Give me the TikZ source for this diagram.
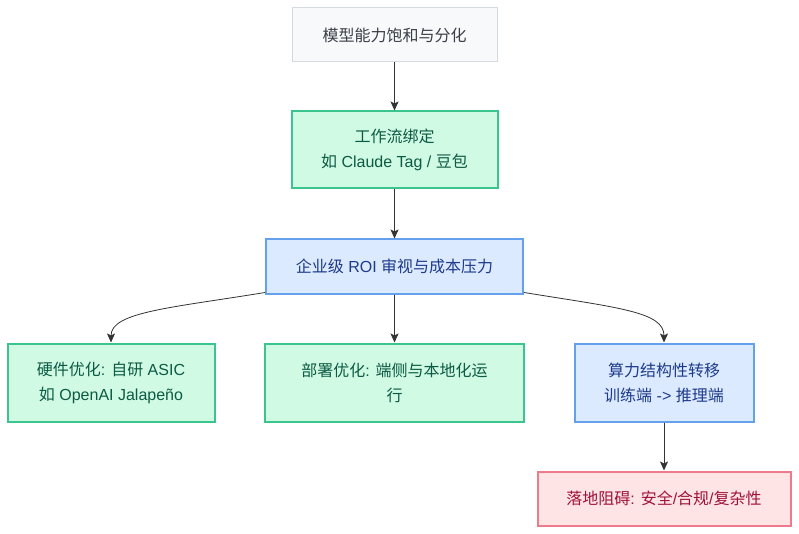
\documentclass[tikz,border=0pt]{standalone}
\usepackage{fontspec}
\setmainfont{Liberation Sans}
\newfontfamily\cjk{Noto Sans CJK SC}
\usetikzlibrary{arrows.meta}
\definecolor{gfill}{HTML}{F8F9FA}
\definecolor{gline}{HTML}{D5DAE0}
\definecolor{gtext}{HTML}{3A3F47}
\definecolor{nfill}{HTML}{D1FAE5}
\definecolor{nline}{HTML}{3CC48E}
\definecolor{ntext}{HTML}{0B5A43}
\definecolor{bfill}{HTML}{DBEAFE}
\definecolor{bline}{HTML}{64A0EC}
\definecolor{btext}{HTML}{1E3A8A}
\definecolor{rfill}{HTML}{FFE4E6}
\definecolor{rline}{HTML}{EE7A8C}
\definecolor{rtext}{HTML}{9F1239}
\definecolor{edge}{HTML}{333333}
\begin{document}
\begin{tikzpicture}[x=1pt,y=1pt,
  box/.style={rectangle,align=center,inner sep=0pt,font=\fontsize{16}{25}\selectfont},
  graybox/.style={box,fill=gfill,draw=gline,line width=1pt,text=gtext},
  greenbox/.style={box,fill=nfill,draw=nline,line width=2pt,text=ntext},
  bluebox/.style={box,fill=bfill,draw=bline,line width=2pt,text=btext},
  redbox/.style={box,fill=rfill,draw=rline,line width=2pt,text=rtext},
  conn/.style={draw=edge,line width=0.8pt,-{Stealth[length=9pt,width=8pt,inset=2pt]}}]
\useasboundingbox (0,0) rectangle (799,-534);
\node[graybox,minimum width=205pt,minimum height=54pt] (top) at (394.5,-35) {{\cjk 模型能力饱和与分化}};
\node[greenbox,minimum width=206pt,minimum height=77pt] (wf) at (394.5,-150) {{\cjk 工作流绑定}\\{\cjk 如} Claude Tag / {\cjk 豆包}};
\node[bluebox,minimum width=257pt,minimum height=54pt] (roi) at (394.5,-266.5) {{\cjk 企业级} ROI {\cjk 审视与成本压力}};
\node[greenbox,minimum width=207pt,minimum height=78pt] (hw) at (111,-382.5) {{\cjk 硬件优化}: {\cjk 自研} ASIC\\{\cjk 如} OpenAI Jalape\~no};
\node[greenbox,minimum width=259pt,minimum height=78pt] (dep) at (394.5,-382.5) {{\cjk 部署优化}: {\cjk 端侧与本地化运}\\{\cjk 行}};
\node[bluebox,minimum width=179pt,minimum height=78pt] (cmp) at (664,-382.5) {{\cjk 算力结构性转移}\\{\cjk 训练端} -> {\cjk 推理端}};
\node[redbox,minimum width=253pt,minimum height=54pt] (risk) at (664,-498.5) {{\cjk 落地阻碍}: {\cjk 安全}/{\cjk 合规}/{\cjk 复杂性}};
\draw[conn] (top.south) -- (wf.north);
\draw[conn] (wf.south) -- (roi.north);
\draw[conn] (roi.south) -- (dep.north);
\draw[conn] ([yshift=2pt]roi.south west) .. controls (170,-308) and (111,-312) .. (hw.north);
\draw[conn] ([yshift=2pt]roi.south east) .. controls (620,-308) and (664,-312) .. (cmp.north);
\draw[conn] (cmp.south) -- (risk.north);
\end{tikzpicture}
\end{document}
